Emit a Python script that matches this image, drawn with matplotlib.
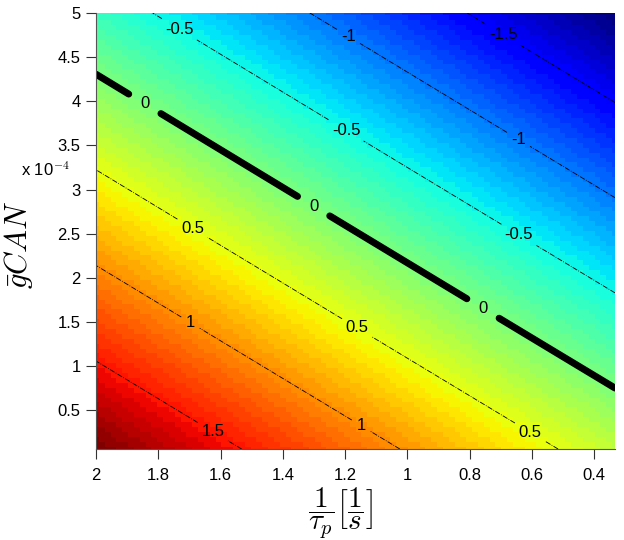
import numpy as np
import matplotlib
matplotlib.use("Agg")
import matplotlib.pyplot as plt
from matplotlib.ticker import FuncFormatter

plt.rcParams['font.family'] = ['Liberation Sans', 'DejaVu Sans']
plt.rcParams['mathtext.fontset'] = 'cm'

# ---- data ----
x_range = [2.0, 1.0 / 3.0]          # 1/tau_p [1/s]
y_range = [0.06e-4, 5.0e-4]         # g_CAN
# surface values at the four corners: rows = y (low, high), cols = x (2, 1/3)
z_corners = [[1.96, 0.32],
             [-0.32, -1.97]]
thin_levels = [-1.5, -1.0, -0.5, 0.5, 1.0, 1.5]
zero_level = [0.0]
x_ticks = [2.0, 1.8, 1.6, 1.4, 1.2, 1.0, 0.8, 0.6, 0.4]
y_ticks = [0.5e-4, 1e-4, 1.5e-4, 2e-4, 2.5e-4, 3e-4, 3.5e-4, 4e-4, 4.5e-4, 5e-4]
# contour label positions (x, y)
thin_label_pos = [(0.697, 4.73e-4),
                  (1.197, 4.69e-4), (0.648, 3.54e-4),
                  (1.735, 4.80e-4), (1.197, 3.67e-4), (0.648, 2.45e-4),
                  (1.690, 2.56e-4), (1.165, 1.41e-4), (0.606, 0.25e-4),
                  (1.697, 1.49e-4), (1.148, 0.33e-4),
                  (1.626, 0.25e-4)]
zero_label_pos = [(1.845, 3.96e-4), (1.303, 2.80e-4), (0.761, 1.63e-4)]

# ---- grid (bilinear surface through the corner values) ----
nx, ny = 90, 90
xs = np.linspace(x_range[0], x_range[1], nx)
ys = np.linspace(y_range[0], y_range[1], ny)
X, Y = np.meshgrid(xs, ys)
u = (X - x_range[0]) / (x_range[1] - x_range[0])
v = (Y - y_range[0]) / (y_range[1] - y_range[0])
zc = np.array(z_corners)
Z = (zc[0, 0] * (1 - u) * (1 - v) + zc[0, 1] * u * (1 - v)
     + zc[1, 0] * (1 - u) * v + zc[1, 1] * u * v)

fig = plt.figure(figsize=(6.24, 5.40), dpi=100)
ax = fig.add_axes([96 / 624, 1 - 449 / 540, 519 / 624, 436 / 540])

cmap = plt.get_cmap('jet', 64)
ax.pcolormesh(X, Y, Z, cmap=cmap, shading='auto',
              vmin=Z.min(), vmax=Z.max(), rasterized=True)

cs = ax.contour(X, Y, Z, levels=thin_levels, colors='k', linewidths=0.6,
                linestyles='-.')
cz = ax.contour(X, Y, Z, levels=zero_level, colors='k', linewidths=5.0,
                linestyles='-')
try:
    cz.set_capstyle('round')
except Exception:
    pass

fmt = lambda val: f'{val:g}'
t1 = ax.clabel(cs, inline=True, fmt=fmt, fontsize=12, manual=thin_label_pos,
               inline_spacing=6)
t2 = ax.clabel(cz, inline=True, fmt=fmt, fontsize=12, manual=zero_label_pos,
               inline_spacing=14)
for t in list(t1) + list(t2):
    t.set_rotation(0)

ax.set_xlim(x_range[0], x_range[1])
ax.set_ylim(y_range[0], y_range[1])
ax.set_xticks(x_ticks)
ax.set_yticks(y_ticks)
ax.xaxis.set_major_formatter(FuncFormatter(lambda v, p: f'{v:g}'))
ax.yaxis.set_major_formatter(FuncFormatter(lambda v, p: f'{v * 1e4:g}'))
ax.tick_params(direction='out', length=7, width=0.8, colors='#333333',
               labelcolor='black', labelsize=12)
ax.tick_params(axis='x', pad=7)
ax.tick_params(axis='y', pad=4)
for s in ['top', 'right']:
    ax.spines[s].set_visible(False)
for s in ['left', 'bottom']:
    ax.spines[s].set_color('#555555')
    ax.spines[s].set_linewidth(0.8)

ax.set_xlabel(r'$\dfrac{1}{\tau_p}\left[\dfrac{1}{s}\right]$', fontsize=21)
ax.xaxis.set_label_coords(0.472, -0.082)
ax.set_ylabel(r'$\bar{g}CAN$', fontsize=22)
ax.yaxis.set_label_coords(-0.118, 0.468)

fig.text(45 / 624, 1 - 170 / 540, r'x 10$^{-4}$', fontsize=12,
         ha='center', va='center')

fig.savefig('out.png', dpi=100)
